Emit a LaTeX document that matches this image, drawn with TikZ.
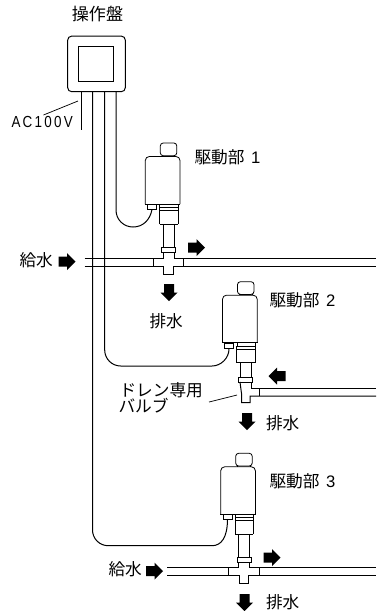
\documentclass[tikz,border=0pt]{standalone}
\usepackage{fontspec}
\setmainfont{Noto Sans CJK JP}
\newfontfamily\latinf[FakeStretch=0.84]{Liberation Sans}
\newfontfamily\digitf{Liberation Sans}
\tikzset{
  x=0.75pt,y=-0.75pt,
  every path/.append style={line width=0.75pt},
  lbl/.style={inner sep=0pt,anchor=west,font=\fontsize{12.5pt}{13pt}\selectfont},
  thin line/.style={line width=0.55pt},
  valve line/.style={line width=0.6pt},
  pics/blockarrow/.style={code={
    \fill[black] (-8.5,-5)--(0,-5)--(0,-8.5)--(8.5,0)--(0,8.5)--(0,5)--(-8.5,5)--cycle;}},
  pics/valve/.style={code={
    \draw[valve line,rounded corners=2.2pt] (0,0) rectangle (16.5,12.7);
    \draw[valve line] (2,12.7)--(2,13.5) (14.5,12.7)--(14.5,13.5);
    \draw[valve line,rounded corners=3pt] (-15,61)--(-15,13.5)--(19.7,13.5)--(19.7,61);
    \draw[valve line] (-15.5,61)--(20,61);
    \draw[valve line] (-12.7,61.5) rectangle (-3.7,66.5);
    \draw[valve line] (-0.5,61) rectangle (18,64.5);
    \draw[valve line] (-0.7,64.5)--(-0.7,81) (17.7,64.5)--(17.7,81) (-0.7,67.3)--(17.7,67.3) (-0.7,81)--(17.7,81);
    \draw[valve line] (2.7,81)--(2.7,#1) (14,81)--(14,#1);
    \draw[valve line] (1.3,#1) rectangle (15.3,#1+5);
  }}
}
\begin{document}
\begin{tikzpicture}
\useasboundingbox (0,0) rectangle (376,611);
% control panel
\node[draw,rounded corners=3pt,minimum width=43.2pt,minimum height=41.7pt,inner sep=0pt] (panel) at (96.5,63.9) {};
\node[draw,minimum width=26pt,minimum height=26pt,inner sep=0pt] (screen) at (96,64) {};
\coordinate (w0) at (81,130);
\coordinate (w1) at (92.5,0);
\coordinate (w2) at (104.7,0);
\coordinate (w3) at (116,0);
\draw (panel.south -| w0) -- (w0);
% cables
\coordinate (c1) at (152,209.5);
\coordinate (c2) at (229,349);
\coordinate (c3) at (227.5,519);
\draw (panel.south -| w1) -- (92.5,530) arc[start angle=180,end angle=90,radius=15.7] -- (212,545.7) .. controls (221,545.7) and (227.5,538) .. (c3);
\draw (panel.south -| w2) -- (104.7,350) arc[start angle=180,end angle=90,radius=16] -- (212,366) .. controls (221,366) and (229,358) .. (c2);
\draw (panel.south -| w3) -- (116,210) .. controls (116,220) and (124,227) .. (133,227) .. controls (143,227) and (150,220) .. (c1);
% leaders
\coordinate (acl) at (43.5,115);
\coordinate (ach) at (78,101);
\draw[thin line] (acl) -- (ach);
\coordinate (drl) at (209,402);
\coordinate (drh) at (237,395);
\draw[thin line] (drl) -- (drh);
% valves
\pic at (160.3,143) {valve=104};
\pic at (237.5,281.7) {valve=95.6};
\pic at (235.7,453.3) {valve=104};
% pipe 1
\draw (84.5,258)--(163.3,258)--(163.3,252) (174.3,252)--(174.3,258)--(376,258);
\draw (84.5,266)--(163.7,266)--(163.7,274)--(173.7,274)--(173.7,266)--(376,266);
\draw (153.3,258)--(153.3,266) (183.7,258)--(183.7,266);
% pipe 2
\draw (240,382)--(241.7,395)--(241.7,402.7)--(250,402.7)--(250,396)--(376,396);
\draw (251.3,382)--(251.3,388)--(376,388);
\draw (259,388)--(259,396);
% pipe 3
\draw (167,567.7)--(238.5,567.7)--(238.5,562.3) (249.7,562.3)--(249.7,567.7)--(376,567.7);
\draw (167,575.7)--(239.3,575.7)--(239.3,583.3)--(248.7,583.3)--(248.7,575.7)--(376,575.7);
\draw (228.7,567.7)--(228.7,575.7) (259.3,567.7)--(259.3,575.7);
% arrows
\pic at (67,261.5) {blockarrow};
\pic at (196.5,247.5) {blockarrow};
\pic[rotate=-90] at (169,292.7) {blockarrow};
\pic[rotate=180] at (277,376) {blockarrow};
\pic[rotate=-90] at (247,421.5) {blockarrow};
\pic at (154.5,571) {blockarrow};
\pic at (272,557.5) {blockarrow};
\pic[rotate=-90] at (244.5,602.5) {blockarrow};
% labels
\node[lbl,anchor=center,font=\fontsize{12.8pt}{14pt}\selectfont] (t0) at (97.5,14.5) {操作盤};
\node[lbl,font=\latinf\fontsize{12pt}{13pt}\selectfont] (t1) at (11,122) {A\kern1.7pt C\kern1.7pt 1\kern1.7pt 0\kern1.7pt 0\kern1.7pt V};
\node[lbl] (t2) at (194,157) {駆動部\kern5pt{\digitf 1}};
\node[lbl] (t3) at (269,300) {駆動部\kern5pt{\digitf 2}};
\node[lbl] (t4) at (269,481) {駆動部\kern5pt{\digitf 3}};
\node[lbl] (t5) at (19,260) {給水};
\node[lbl] (t6) at (149,321) {排水};
\node[lbl] (t7) at (265.5,423) {排水};
\node[lbl] (t8) at (265.5,602) {排水};
\node[lbl] (t9) at (108,569) {給水};
\node[lbl] (t10) at (119,390) {ドレン専用};
\node[lbl] (t11) at (118,406) {バルブ};
\end{tikzpicture}
\end{document}
